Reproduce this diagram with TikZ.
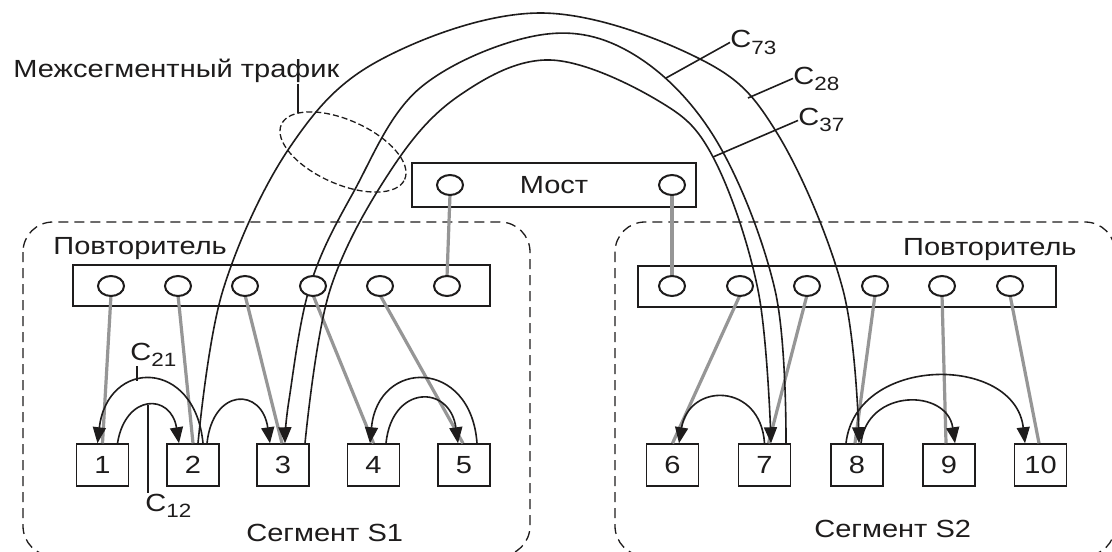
\documentclass[tikz,border=0pt]{standalone}
\usepackage{fontspec}
\setmainfont{Liberation Sans}[FakeStretch=1.17]
\usetikzlibrary{arrows.meta,shapes.geometric,calc}
\definecolor{tapgray}{RGB}{150,150,150}
\definecolor{ink}{RGB}{30,28,28}
\newcommand\csub[1]{\raisebox{-3pt}{\fontsize{9.6pt}{10pt}\selectfont #1}}
\begin{document}
\begin{tikzpicture}[x=0.5pt,y=-0.5pt,
  every node/.style={font=\fontsize{12.4pt}{15pt}\selectfont, text=ink},
  stn/.style={draw=ink, line width=0.75pt, minimum width=26pt, minimum height=21pt, inner sep=0pt},
  panel/.style={draw=ink, line width=0.75pt, inner sep=0pt},
  port/.style={ellipse, draw=ink, line width=1pt, fill=white, minimum width=13pt, minimum height=10pt, inner sep=0pt},
  seg/.style={draw=ink, line width=0.65pt, dash pattern=on 5pt off 3pt, rounded corners=15pt},
  tap/.style={line width=1.6pt, draw=tapgray},
  link/.style={draw=ink, line width=0.8pt, -{Triangle[length=8pt,width=6.5pt]}},
  wire/.style={draw=ink, line width=0.8pt},
  lbl/.style={inner sep=0pt}]
\useasboundingbox (0,0) rectangle (1112,551);
\clip (0,0) rectangle (1112,551);
\fill[white] (0,0) rectangle (1112,551);

% segments
\draw[seg] (23,222) rectangle (530,556);
\draw[seg] (615,222) rectangle (1115,556);

% bridge and repeaters
\node[panel, minimum width=142pt, minimum height=22pt] (most) at (554,185) {Мост};
\node[panel, minimum width=208.5pt, minimum height=20.5pt] (repL) at (281.5,285.5) {};
\node[panel, minimum width=209pt, minimum height=20.5pt] (repR) at (847,286.5) {};

% stations
\foreach \i/\x in {1/102.5,2/193,3/283,4/373.5,5/464,6/672.5,7/764.5,8/857,9/949,10/1040.5}
  \node[stn] (b\i) at (\x,465) {\i};

% texts
\node[lbl, anchor=base west] (traf) at (13,78) {Межсегментный трафик};
\node[lbl, anchor=base west] (rptL) at (53,254.5) {Повторитель};
\node[lbl, anchor=base east] (rptR) at (1077,255) {Повторитель};
\node[lbl, anchor=base west] (segA) at (246,541.5) {Сегмент S1};
\node[lbl, anchor=base west] (segB) at (814,537) {Сегмент S2};

% port positions
\foreach \i/\x in {1/111,2/178,3/245,4/313,5/380,6/447}
  \coordinate (qL\i) at (\x,286);
\foreach \i/\x in {1/672,2/740,3/807,4/875,5/942,6/1010}
  \coordinate (qR\i) at (\x,286);
\coordinate (mLc) at (450,185);
\coordinate (mRc) at (672,185);

% taps (gray)
\draw[tap] ($(mLc)+(0,9)$) -- ($(qL6)+(0,-9)$);
\draw[tap] ($(mRc)+(0,9)$) -- ($(qR1)+(0,-9)$);
\draw[tap] ($(qL1)+(0,9)$) -- (b1.north);
\draw[tap] ($(qL2)+(0,9)$) -- (b2.north);
\draw[tap] ($(qL3)+(0,9)$) -- ($(b3.north)+(-1,0)$);
\draw[tap] ($(qL4)+(0,9)$) -- (b4.north);
\draw[tap] ($(qL5)+(0,9)$) -- ($(b5.north)+(-1,0)$);
\draw[tap] ($(qR2)+(0,9)$) -- (b6.north);
\draw[tap] ($(qR3)+(0,9)$) -- ($(b7.north)+(4,0)$);
\draw[tap] ($(qR4)+(0,9)$) -- ($(b8.north)+(-2,0)$);
\draw[tap] ($(qR5)+(0,9)$) -- ($(b9.north)+(-3,0)$);
\draw[tap] ($(qR6)+(0,9)$) -- ($(b10.north)+(-1.5,0)$);

% local traffic
\draw[link] ($(b1.north)+(15,0)$) .. controls +(8,-50) and +(-8,-50) .. ($(b2.north)+(-14,0)$);
\draw[link] ($(b2.north)+(10,0)$) .. controls +(-8,-85) and +(10,-85) .. ($(b1.north)+(-5,0)$);
\draw[link] ($(b2.north)+(14,0)$) .. controls +(6,-56) and +(-8,-56) .. ($(b3.north)+(-13,0)$);
\draw[link] ($(b4.north)+(12.5,0)$) .. controls +(6,-59) and +(-8,-59) .. ($(b5.north)+(-6,0)$);
\draw[link] ($(b5.north)+(13,0)$) .. controls +(-6,-85) and +(8,-85) .. ($(b4.north)+(-3.5,0)$);
\draw[link] (b7.north) .. controls +(-4,-61) and +(10,-61) .. ($(b6.north)+(6.5,0)$);
\draw[link] ($(b8.north)+(4,0)$) .. controls +(6,-55) and +(-8,-55) .. ($(b9.north)+(6,0)$);
\draw[link] ($(b8.north)+(-11,0)$) .. controls +(10,-89) and +(-10,-89) .. ($(b10.north)+(-15.5,0)$);

% inter-segment traffic
\coordinate (s28) at ($(b2.north)+(5,0)$);
\coordinate (e28) at ($(b8.north)+(2,0)$);
\coordinate (s73) at ($(b7.north)+(21.5,0)$);
\coordinate (e73) at ($(b3.north)+(2,0)$);
\coordinate (s37) at ($(b3.north)+(22,0)$);
\coordinate (e37) at ($(b7.north)+(6.5,0)$);
\draw[link] plot[smooth, tension=0.6] coordinates {(s28) (223,290) (290,147) (380,60) (540,13) (700,59) (777,133) (843,290) (e28)};
\draw[link] plot[smooth, tension=0.6] coordinates {(s73) (775,290) (716,140) (633,54) (540,35) (420,88) (353,193) (310,286) (289,400) (e73)};
\draw[link] plot[smooth, tension=0.6] coordinates {(s37) (330,290) (393,167) (460,95) (550,60) (657,100) (713,157) (758,290) (e37)};

% ports (on top)
\foreach \i in {1,...,6} \node[port] (pL\i) at (qL\i) {};
\foreach \i in {1,...,6} \node[port] (pR\i) at (qR\i) {};
\node[port] (mL) at (mLc) {};
\node[port] (mR) at (mRc) {};

% labels
\node[lbl, anchor=base west] (l73) at (730,48) {C\csub{73}};
\node[lbl, anchor=base west] (l28) at (793,84) {C\csub{28}};
\node[lbl, anchor=base west] (l37) at (798,126) {C\csub{37}};
\node[lbl, anchor=base west] (l21) at (130,360) {C\csub{21}};
\node[lbl, anchor=base west] (l12) at (145,511) {C\csub{12}};
\coordinate (a73) at (666,78);
\coordinate (a28) at (748,98);
\coordinate (a37) at (713,157);
\coordinate (a21) at (137,381);
\coordinate (a12) at (148,405);
\draw[wire] (a73) -- (l73.west);
\draw[wire] (a28) -- (l28.west);
\draw[wire] (a37) -- (l37.west);
\draw[wire] (a21 |- l21.south) -- (a21);
\draw[wire] (a12) -- (a12 |- l12.north);

% inter-segment traffic bundle marker
\coordinate (ellc) at (343,152);
\draw[draw=ink, line width=0.65pt, dash pattern=on 3pt off 1.5pt, rotate around={-24:(ellc)}] (ellc) ellipse [x radius=33.75pt, y radius=16pt];
\coordinate (ell) at (298,113);
\draw[wire] (ell |- traf.south) -- (ell);
\end{tikzpicture}
\end{document}
